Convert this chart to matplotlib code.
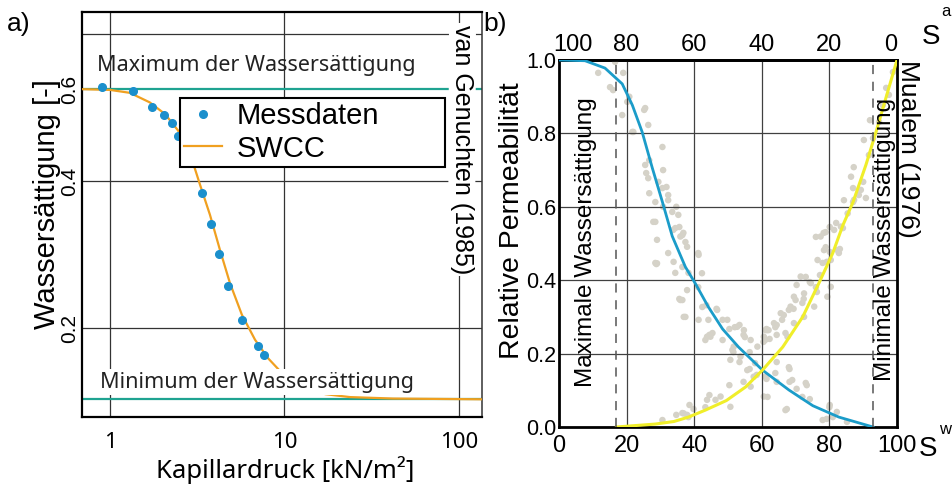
import matplotlib
matplotlib.use('Agg')
import matplotlib.pyplot as plt

plt.rcParams['font.family'] = ['Liberation Sans', 'DejaVu Sans']
myriad = ['Noto Sans', 'DejaVu Sans']

# a) Messdaten und SWCC (van Genuchten)
mess_druck = [0.90, 1.35, 1.74, 2.04, 2.27, 2.45, 3.37, 3.79, 4.21, 4.75, 5.70, 7.05, 7.63]
mess_saett = [0.528, 0.522, 0.501, 0.490, 0.479, 0.461, 0.384, 0.342, 0.301, 0.257, 0.211, 0.176, 0.163]
swcc_druck = [0.69, 1.0, 1.30, 1.69, 2.07, 2.45, 2.87, 3.28, 3.74, 4.27, 4.87, 5.70, 6.78,
              8.04, 10.0, 12.3, 17.1, 23.7, 41.9, 135]
swcc_saett = [0.525, 0.524, 0.520, 0.507, 0.491, 0.469, 0.438, 0.395, 0.354, 0.306, 0.261, 0.218, 0.184,
              0.159, 0.135, 0.122, 0.110, 0.106, 0.104, 0.103]
s_max = 0.525
s_min = 0.103
a_xticks = [1, 10, 100]
a_ygrid = [0.2, 0.4, 0.6]
a_ytick_pos = [0.2, 0.4, 0.525]
a_ytick_lab = ['0.2', '0.4', '0.6']

# b) relative Permeabilitaet (Mualem)
kw_sw = [0, 7.7, 13.6, 18.7, 21.7, 24.6, 27.6, 30.6, 33.5, 37.4, 40.4, 44.2, 48.4, 53.1, 60.2, 68, 75.1, 82.8, 92.9]
kw_kr = [1.0, 0.998, 0.978, 0.935, 0.877, 0.804, 0.706, 0.613, 0.52, 0.436, 0.39, 0.327, 0.267, 0.218, 0.155,
         0.101, 0.058, 0.027, 0.0]
ka_sw = [17, 28.5, 34, 38.3, 43.3, 49.5, 55.2, 60.2, 66.2, 72.1, 76.9, 81, 84, 87, 90.8, 93.8, 96.7, 100]
ka_kr = [0.0, 0.008, 0.015, 0.027, 0.046, 0.072, 0.109, 0.155, 0.218, 0.30, 0.392, 0.474, 0.55, 0.613, 0.714,
         0.804, 0.896, 1.0]

streu_w_sw = [11.6, 16.6, 19.0, 15.1, 20.2, 18.7, 25.5, 21.7, 26.4, 30.6, 25.5, 26.4, 28.5, 30.6, 32.3, 33.5,
              35.3, 28.5, 34.4, 36.5, 37.4, 16.0, 20.8, 25.2, 22.0, 26.7, 25.8, 30.8, 29.4, 31.8, 26.7, 32.3,
              30.8, 34.7, 27.9, 35.6, 33.8, 36.8, 28.5, 32.3, 36.5, 41.2, 38.3, 34.4, 41.2, 36.5, 42.4, 44.2,
              37.4, 45.4, 48.4, 48.4, 43.3, 28.8, 35.6, 43.6, 44.5, 46.6, 50.4, 53.4, 54.6, 51.6, 53.4, 56.4,
              58.5, 61.4, 64.4, 68.2, 70.3, 73.3, 74.2, 67.4, 80.1, 82.2, 79.2, 85.2, 68.2, 64.4, 62.3, 52.0,
              55.0, 51.3, 58.0, 64.0, 68.0, 69.0, 73.0, 72.0, 67.0, 80.0, 81.0, 78.0, 61.7,
              29.0, 29.0, 33.9, 35.9, 37.9, 41.3, 42.3, 35.9, 36.9, 37.9, 41.3, 43.8, 46.8, 49.8, 52.7, 54.7,
              56.7, 58.7, 51.7, 50.7, 53.7, 55.7, 57.6, 44.8, 47.8, 43.8, 50.7, 56.7, 60.6, 61.1]
streu_w_kr = [0.965, 0.995, 0.965, 0.926, 0.886, 0.850, 0.869, 0.804, 0.823, 0.763, 0.714, 0.678, 0.613, 0.651,
              0.632, 0.586, 0.578, 0.559, 0.542, 0.523, 0.504, 0.918, 0.900, 0.864, 0.804, 0.727, 0.692, 0.700,
              0.668, 0.654, 0.637, 0.618, 0.600, 0.600, 0.559, 0.545, 0.537, 0.529, 0.447, 0.474, 0.436, 0.474,
              0.420, 0.420, 0.381, 0.346, 0.327, 0.292, 0.300, 0.256, 0.292, 0.237, 0.237, 0.444, 0.349, 0.332,
              0.251, 0.322, 0.267, 0.278, 0.251, 0.204, 0.177, 0.158, 0.142, 0.131, 0.123, 0.123, 0.104, 0.114,
              0.076, 0.049, 0.060, 0.041, 0.022, 0.014, 0.158, 0.177, 0.240, 0.272, 0.245, 0.210, 0.174, 0.147,
              0.163, 0.128, 0.120, 0.082, 0.046, 0.054, 0.027, 0.019, 0.082,
              0.510, 0.446, 0.450, 0.519, 0.491, 0.469, 0.419, 0.346, 0.300, 0.373, 0.292, 0.246, 0.319, 0.292,
              0.273, 0.264, 0.237, 0.219, 0.219, 0.183, 0.192, 0.155, 0.137, 0.246, 0.083, 0.074, 0.055, 0.110,
              0.083, 0.137]
streu_a_sw = [36.5, 38.3, 30.6, 43.3, 46.3, 60.5, 61.4, 64.4, 66.5, 64.4, 69.4, 72.4, 70.3, 74.2, 77.2, 76.3,
              79.2, 80.1, 83.1, 56.4, 54.6, 50.4, 44.5, 39.8, 34.7, 38.6, 78.9, 82.8, 78.0, 73.0, 76.0, 70.0,
              68.0, 66.0, 64.0, 62.0, 61.0, 67.0, 72.0, 76.0, 78.9, 82.0, 84.0, 87.0, 88.7, 90.0, 91.7, 92.9,
              94.7, 95.8, 96.8, 97.6, 98.8, 90.8, 87.0, 92.0, 90.2, 87.2, 84.3, 80.1, 78.3,
              36.9, 37.9, 89.3, 87.3, 85.4, 83.4, 81.4, 77.4, 78.4, 82.4, 80.4, 76.5, 71.5, 74.5, 72.5, 69.5,
              68.5, 65.6, 63.6, 61.6, 60.6, 80.4, 79.4, 75.5, 72.5, 69.5, 67.6, 86.4, 61.1]
streu_a_kr = [0.038, 0.027, 0.019, 0.054, 0.074, 0.232, 0.267, 0.278, 0.305, 0.251, 0.322, 0.349, 0.387, 0.395,
              0.414, 0.368, 0.450, 0.477, 0.485, 0.204, 0.123, 0.114, 0.087, 0.049, 0.033, 0.060, 0.490, 0.474,
              0.447, 0.409, 0.381, 0.346, 0.319, 0.292, 0.272, 0.264, 0.237, 0.256, 0.338, 0.518, 0.531, 0.556,
              0.542, 0.651, 0.632, 0.668, 0.741, 0.787, 0.831, 0.877, 0.924, 0.905, 0.967, 0.624, 0.613, 0.836,
              0.782, 0.708, 0.618, 0.545, 0.529,
              0.037, 0.033, 0.646, 0.619, 0.582, 0.546, 0.537, 0.519, 0.482, 0.482, 0.455, 0.455, 0.410, 0.392,
              0.364, 0.355, 0.328, 0.310, 0.283, 0.264, 0.246, 0.382, 0.355, 0.328, 0.300, 0.283, 0.246, 0.682,
              0.264]
sw_max = 17
sw_min = 93
b_ticks = [0, 20, 40, 60, 80, 100]
b_yticks = [0.0, 0.2, 0.4, 0.6, 0.8, 1.0]
sa_pos = [4, 20, 40, 60, 80, 98]
sa_lab = ['100', '80', '60', '40', '20', '0']

W, H = 952, 484
fig = plt.figure(figsize=(W / 100, H / 100), dpi=100)

# ---------- Panel a ----------
axa = fig.add_axes([82 / W, 1 - 417 / H, 400 / W, 405 / H])
axa.set_xscale('log')
axa.set_xlim(0.691, 135.5)
axa.set_ylim(0.0789, 0.630)
for x in a_xticks:
    axa.axvline(x, color='#333333', lw=0.9, zorder=1)
for y in a_ygrid:
    axa.axhline(y, color='#333333', lw=0.9, zorder=1)
axa.axhline(s_max, color='#1fa391', lw=1.6, zorder=2)
axa.axhline(s_min, color='#1fa391', lw=1.6, zorder=2)
axa.plot(swcc_druck, swcc_saett, color='#f0a020', lw=1.6, zorder=3, label='SWCC')
axa.plot(mess_druck, mess_saett, 'o', color='#1b8fcc', ms=5.5, zorder=4, label='Messdaten')

axa.set_xticks(a_xticks, labels=['1', '10', '100'])
axa.xaxis.set_minor_locator(plt.NullLocator())
axa.set_yticks(a_ytick_pos, labels=a_ytick_lab)
axa.tick_params(length=0)
axa.tick_params(axis='x', pad=11)
axa.tick_params(axis='y', pad=2, labelrotation=90)
for lab in axa.get_xticklabels():
    lab.set_family(myriad)
    lab.set_fontsize(16)
for lab in axa.get_yticklabels():
    lab.set_fontsize(15)
    lab.set_va('center')
for side in ['left', 'top', 'bottom']:
    axa.spines[side].set_linewidth(1.6)
axa.spines['right'].set_linewidth(1.1)
axa.spines['right'].set_color('#333333')

h, l = axa.get_legend_handles_labels()
leg = axa.legend(h[::-1], l[::-1], loc='upper left', bbox_to_anchor=(0.245, 0.615, 0.6625, 0.173),
                 mode='expand', fontsize=21, frameon=True, fancybox=False, framealpha=1,
                 edgecolor='black', borderpad=0.15, labelspacing=0.15, handlelength=1.3,
                 handletextpad=0.5, borderaxespad=0)
leg.get_frame().set_linewidth(1.5)
leg.set_zorder(10)

axa.text(0.0375, 0.869, 'Maximum der Wassersättigung', transform=axa.transAxes, family=myriad,
         fontsize=15.5, ha='left', va='center', color='#222222', zorder=6)
axa.text(0.045, 0.0864, 'Minimum der Wassersättigung', transform=axa.transAxes, family=myriad,
         fontsize=15.5, ha='left', va='center', color='#222222', zorder=6,
         bbox=dict(facecolor='white', edgecolor='none', pad=1.5))
axa.text(0.95, 0.968, 'van Genuchten (1985)', transform=axa.transAxes, fontsize=18, rotation=-90,
         ha='center', va='top', zorder=6, bbox=dict(facecolor='white', edgecolor='none', pad=1))

fig.text(47 / W, 1 - 204 / H, 'Wassersättigung [-]', rotation=90, ha='center', va='center', fontsize=21)
fig.text(285 / W, 1 - 470 / H, 'Kapillardruck [kN/m²]', ha='center', va='center', fontsize=18.5,
         family=myriad)
fig.text(19 / W, 1 - 24 / H, 'a)', ha='center', va='center', fontsize=19)

# ---------- Panel b ----------
axb = fig.add_axes([559 / W, 1 - 427 / H, 338 / W, 367 / H])
axb.set_xlim(0, 100)
axb.set_ylim(0, 1)
for x in b_ticks[1:-1]:
    axb.axvline(x, color='#404040', lw=0.9, zorder=1.5)
for y in b_yticks[1:-1]:
    axb.axhline(y, color='#404040', lw=0.9, zorder=1.5)
axb.scatter(streu_w_sw, streu_w_kr, s=22, color='#d5d2c8', edgecolors='none', zorder=1)
axb.scatter(streu_a_sw, streu_a_kr, s=22, color='#d5d2c8', edgecolors='none', zorder=1)
axb.plot(kw_sw, kw_kr, color='#1b9cc9', lw=2.0, zorder=3)
axb.plot(ka_sw, ka_kr, color='#f0ee2a', lw=2.2, zorder=3)
axb.axvline(sw_max, color='#555555', lw=1.1, dashes=(6, 5), zorder=4)
axb.axvline(sw_min, color='#555555', lw=1.1, dashes=(6, 5), zorder=4)

axb.set_xticks(b_ticks, labels=[str(t) for t in b_ticks])
axb.set_yticks(b_yticks, labels=['%.1f' % t for t in b_yticks])
axb.tick_params(length=0, labelsize=17)
axb.tick_params(axis='x', pad=6)
axb.tick_params(axis='y', pad=2, labelsize=15.5)
for s in axb.spines.values():
    s.set_linewidth(2.0)

top = axb.secondary_xaxis('top')
top.set_xticks(sa_pos, labels=sa_lab)
top.tick_params(length=0, labelsize=17, pad=3)
top.spines['top'].set_linewidth(2.0)

axb.text(8.0, 0.504, 'Maximale Wassersättigung', rotation=90, ha='center', va='center',
         fontsize=17.5, zorder=6)
axb.text(96.4, 0.51, 'Minimale Wassersättigung', rotation=90, ha='center', va='center',
         fontsize=17.5, zorder=6)

fig.text(512 / W, 1 - 221 / H, 'Relative Permeabilität', rotation=90, ha='center', va='center',
         fontsize=20.5)
fig.text(908 / W, 1 - 60 / H, 'Mualem (1976)', rotation=-90, ha='center', va='top', fontsize=19)
fig.text(495 / W, 1 - 24 / H, 'b)', ha='center', va='center', fontsize=19)
fig.text(931 / W, 1 - 37 / H, 'S', ha='center', va='center', fontsize=20)
fig.text(946 / W, 1 - 12 / H, 'a', ha='center', va='center', fontsize=12)
fig.text(928 / W, 1 - 449 / H, 'S', ha='center', va='center', fontsize=20)
fig.text(945 / W, 1 - 430 / H, 'w', ha='center', va='center', fontsize=12)

fig.savefig('out.png', dpi=100)
